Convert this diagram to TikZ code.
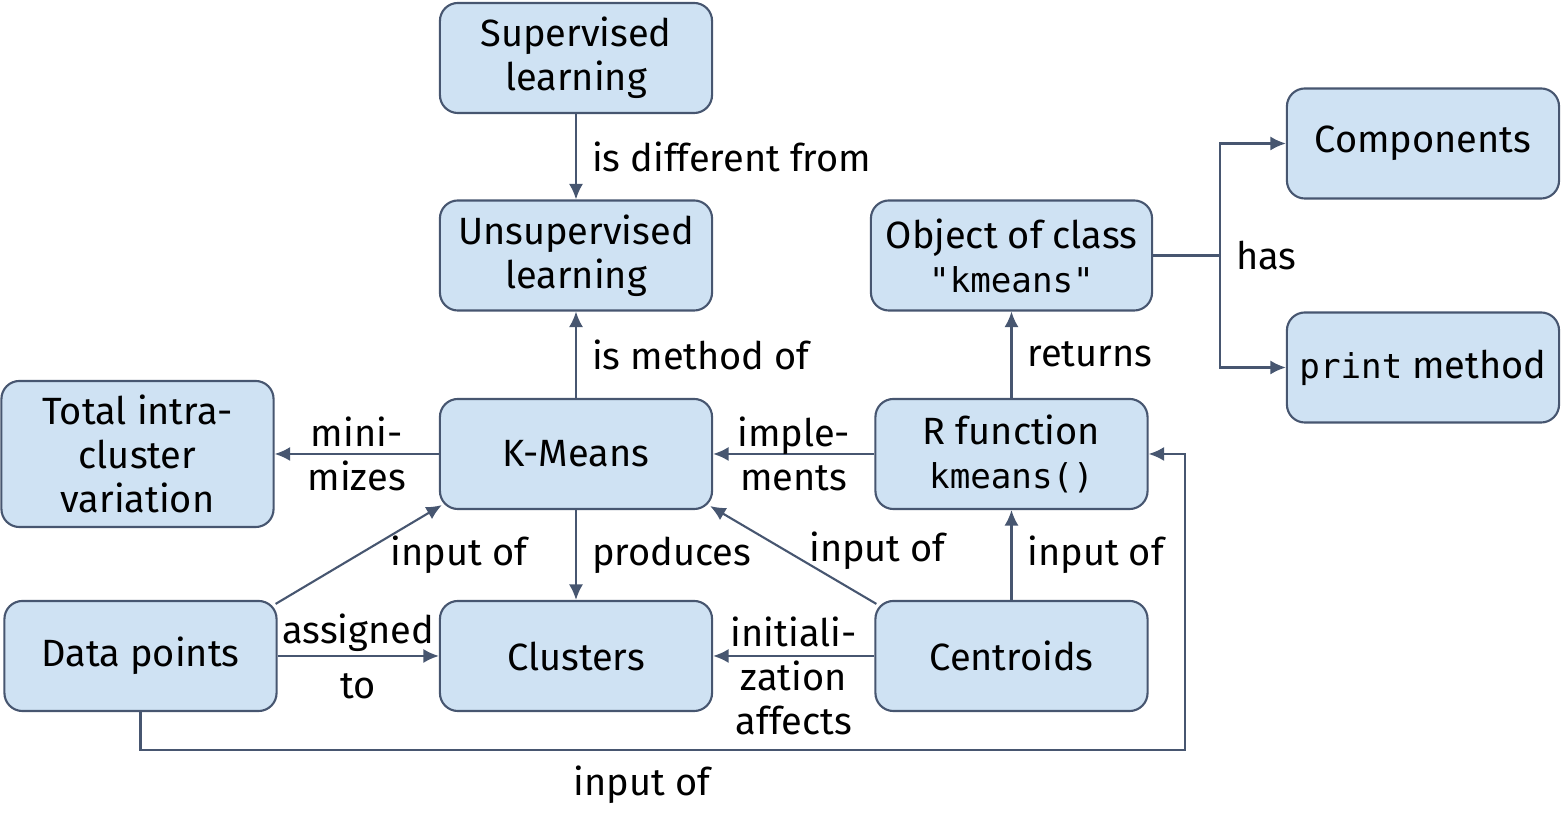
\documentclass[tikz,border=0pt]{standalone}
\usepackage{fontspec}
\setmainfont{Fira Sans}
\setmonofont{DejaVu Sans Mono}[Scale=0.9]
\usetikzlibrary{arrows.meta}
\definecolor{boxfill}{HTML}{CFE2F3}
\definecolor{boxline}{HTML}{475670}

\begin{document}
\begin{tikzpicture}[x=0.01cm, y=-0.01cm, font=\fontsize{10.8}{12.5}\selectfont,
	concept/.style={draw=boxline, fill=boxfill, line width=0.6pt, rounded corners=0.18cm,
		minimum width=2.72cm, minimum height=1.1cm, align=center, inner sep=2pt},
	link/.style={draw=boxline, line width=0.6pt, -{Latex[length=4.4pt,width=4pt]}},
	lbl/.style={align=center, inner sep=2pt, text=black}]
		\useasboundingbox (0,0) rectangle (1568,828);

		% concepts
		\node (sup) [concept] at (576,58) {Supervised\\learning};
		\node (unsup) [concept] at (576,255.5) {Unsupervised\\learning};
		\node (km) [concept] at (576,454) {K-Means};
		\node (clu) [concept] at (576,656) {Clusters};
		\node (var) [concept, minimum height=1.46cm] at (137.5,454) {Total intra-\\cluster\\variation};
		\node (dp) [concept] at (140.5,656) {Data points};
		\node (rf) [concept] at (1011.5,454) {R function\\\texttt{kmeans()}};
		\node (cen) [concept] at (1011.5,656) {Centroids};
		\node (obj) [concept, minimum width=2.81cm] at (1011.5,255.5) {Object of class\\\texttt{"kmeans"}};
		\node (comp) [concept] at (1423,143.5) {Components};
		\node (prn) [concept] at (1423,367.5) {\texttt{print} method};

		% links
		\draw[link] (sup) -- node[lbl, right=0.08cm] {is different from} (unsup);
		\draw[link] (km) -- node[lbl, right=0.08cm] {is method of} (unsup);
		\draw[link] (km) -- node[lbl] {mini-\\mizes} (var);
		\draw[link] (rf) -- node[lbl] {imple-\\ments} (km);
		\draw[link] (km) -- node[lbl, right=0.08cm] {produces} (clu);
		\draw[link] (dp) -- node[lbl] {assigned\\[0.11cm]to} (clu);
		\draw[link] (cen) -- node[lbl, yshift=-0.2cm] {initiali-\\zation\\affects} (clu);
		\draw[link] ([shift={(-2,4)}]dp.north east) -- node[lbl, anchor=west, xshift=0.24cm] {input of} ([shift={(3,-5)}]km.south west);
		\draw[link] ([shift={(2,4)}]cen.north west) -- node[lbl, anchor=west, xshift=0.08cm, yshift=0.04cm] {input of} ([shift={(-3,-4)}]km.south east);
		\draw[link] (cen) -- node[lbl, right=0.08cm] {input of} (rf);
		\draw[link] (rf) -- node[lbl, right=0.08cm] {returns} (obj);

		% has fork
		\coordinate (fork) at (1220,255.5);
		\draw[draw=boxline, line width=0.6pt] (obj.east) -- (fork) node[lbl, right=0.08cm] {has};
		\draw[link] (fork) |- (comp.west);
		\draw[link] (fork) |- (prn.west);

		% loop round the bottom
		\coordinate (loop) at (1185,750);
		\draw[link] (dp.south) |- node[lbl, pos=0.74, below=0.08cm] {input of} (loop) |- (rf.east);
	\end{tikzpicture}
\end{document}
